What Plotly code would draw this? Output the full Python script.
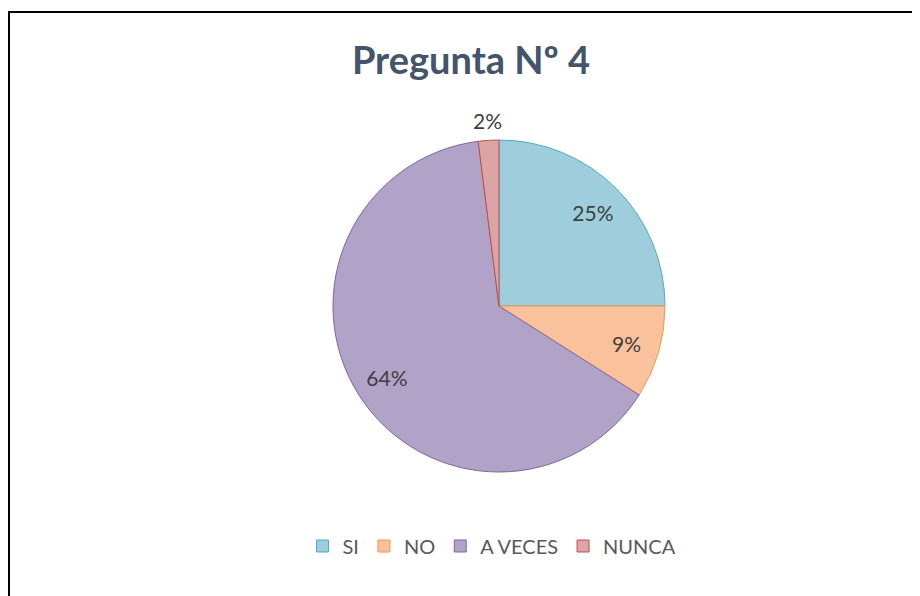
import math
import plotly.graph_objects as go

categories = ["SI", "NO", "A VECES", "NUNCA"]
values = [25, 9, 64, 2]
fill_colors = ["#9ECDDC", "#FAC29C", "#B1A3C7", "#DCA4A4"]
line_colors = ["#4BACC6", "#F79646", "#8064A2", "#C0504D"]
text_positions = ["inside", "inside", "inside", "none"]
outside_label_idx = 3

W, H = 920, 596
OFF = 8  # page body margin
cx, cy, r = 499 - OFF, 306 - OFF, 166
domain = dict(x=[(cx - r) / W, (cx + r) / W], y=[1 - (cy + r) / H, 1 - (cy - r) / H])
FONT = "Lato, Open Sans, sans-serif"
LABEL_FONT = dict(family=FONT, size=21, color="#404040")

fig = go.Figure()
fig.add_trace(go.Pie(
    labels=categories,
    values=values,
    sort=False,
    direction="clockwise",
    rotation=0,
    marker=dict(colors=fill_colors, line=dict(color=line_colors, width=1)),
    textinfo="none",
    hoverinfo="label+percent",
    domain=domain,
))
# text layer (transparent ring so labels sit at ~0.8 radius)
fig.add_trace(go.Pie(
    labels=categories,
    values=values,
    sort=False,
    direction="clockwise",
    rotation=0,
    hole=0.6,
    marker=dict(colors=["rgba(0,0,0,0)"] * len(values), line=dict(width=0)),
    texttemplate="%{percent:.0%}",
    textposition=text_positions,
    insidetextorientation="horizontal",
    textfont=LABEL_FONT,
    showlegend=False,
    hoverinfo="skip",
    domain=domain,
))

# label of the small slice, placed just outside the pie at its mid-angle
total = sum(values)
start = sum(values[:outside_label_idx])
mid_frac = (start + values[outside_label_idx] / 2) / total
ang = 2 * math.pi * mid_frac
lx = cx + 1.12 * r * math.sin(ang)
ly = cy - 1.12 * r * math.cos(ang)
annotations = [dict(x=lx / W, y=1 - ly / H, xref="paper", yref="paper", showarrow=False,
                    xanchor="center", yanchor="middle",
                    text=f"{round(values[outside_label_idx] / total * 100)}%", font=LABEL_FONT)]

fig.update_layout(
    width=W, height=H,
    margin=dict(l=0, r=0, t=0, b=0),
    paper_bgcolor="white",
    title=dict(text="<b>Pregunta Nº 4</b>", x=(471 - OFF) / W, xanchor="center", y=1 - (61 - OFF) / H,
               yanchor="middle",
               font=dict(family=FONT, size=38, color="#44546A")),
    legend=dict(orientation="h", x=(492 - OFF) / W, xanchor="center", y=1 - (546 - OFF) / H, yanchor="middle",
                font=dict(family=FONT, size=20, color="#595959"),
                itemwidth=30, traceorder="normal"),
    annotations=annotations,
    shapes=[dict(type="rect", xref="paper", yref="paper", x0=(9 - OFF) / W, x1=1.05, y0=-0.05,
                 y1=1 - (12 - OFF) / H, line=dict(color="black", width=2), fillcolor="rgba(0,0,0,0)")],
)

fig.write_html("out.html")
